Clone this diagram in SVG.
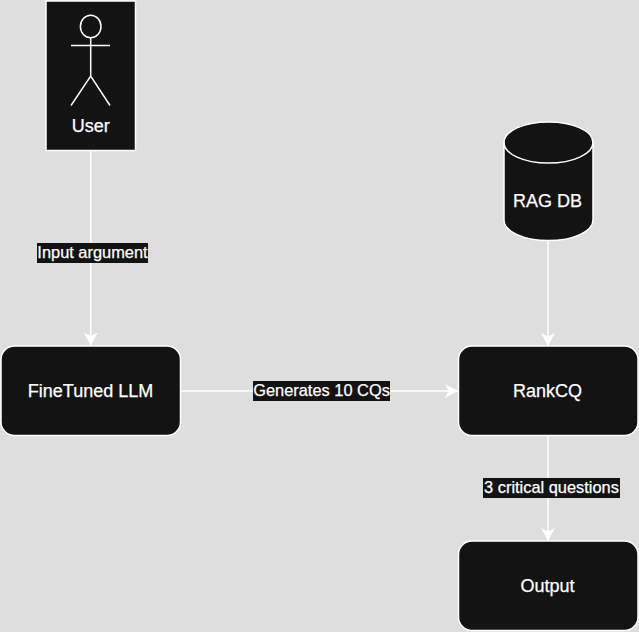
<svg xmlns="http://www.w3.org/2000/svg" width="639" height="632" viewBox="0 0 639 632">
<style>
.box{fill:#131313;stroke:#fff;stroke-width:1.5}
.ln{fill:none;stroke:#fff;stroke-width:1.5}
.t{font-family:"Liberation Sans",Arial,sans-serif;font-size:18px;fill:#fff;stroke:#fff;stroke-width:.25;text-anchor:middle}
.el{font-family:"Liberation Sans",Arial,sans-serif;font-size:16.4px;fill:#fff;stroke:#fff;stroke-width:.25;text-anchor:middle}
.lb{fill:#131313}
</style>
<defs><marker id="a" markerUnits="userSpaceOnUse" markerWidth="15" markerHeight="15" refX="13" refY="7.5" orient="auto"><path d="M0 0.500L13 7.500L0 14.500L3.500 7.500Z" fill="#fff"/></marker></defs>
<rect width="639" height="632" fill="#dedede"/>
<g id="connectors">
<path class="ln" d="M90.700 151V345.500" marker-end="url(#a)"/>
<path class="ln" d="M181 391H458" marker-end="url(#a)"/>
<path class="ln" d="M548 241V346" marker-end="url(#a)"/>
<path class="ln" d="M548 436V541" marker-end="url(#a)"/>
<rect class="lb" x="37" y="243" width="111" height="20"/>
<text class="el" x="92.500" y="258">Input argument</text>
<rect class="lb" x="253" y="381" width="137" height="20"/>
<text class="el" x="321.500" y="396">Generates 10 CQs</text>
<rect class="lb" x="483" y="478" width="137" height="20"/>
<text class="el" x="551.500" y="493">3 critical questions</text>
</g>
<g id="user">
<rect class="box" x="46" y="1" width="89.500" height="149.500"/>
<ellipse class="ln" cx="90.700" cy="26.500" rx="10.300" ry="11.200"/>
<path class="ln" d="M90.700 37.700V76M71 45.500H110M71 105.500L90.700 76L110 105.500"/>
<text class="t" x="90.700" y="131.500">User</text>
</g>
<g id="rag-db">
<path class="box" d="M504 142.500C504 131 524 122 548.500 122C573 122 593 131 593 142.500V220C593 231.500 573 240.500 548.500 240.500C524 240.500 504 231.500 504 220Z"/>
<path class="ln" d="M504 142.500C504 154 524 163 548.500 163C573 163 593 154 593 142.500"/>
<text class="t" x="547.500" y="207">RAG DB</text>
</g>
<g id="finetuned-llm">
<rect class="box" x="1" y="346" width="179.500" height="89.500" rx="13.500"/>
<text class="t" x="90.500" y="397">FineTuned LLM</text>
</g>
<g id="rankcq">
<rect class="box" x="458.500" y="346" width="179.500" height="89.500" rx="13.500"/>
<text class="t" x="547.500" y="397">RankCQ</text>
</g>
<g id="output">
<rect class="box" x="458.500" y="541" width="179.500" height="89.500" rx="13.500"/>
<text class="t" x="547.500" y="592">Output</text>
</g>
</svg>
